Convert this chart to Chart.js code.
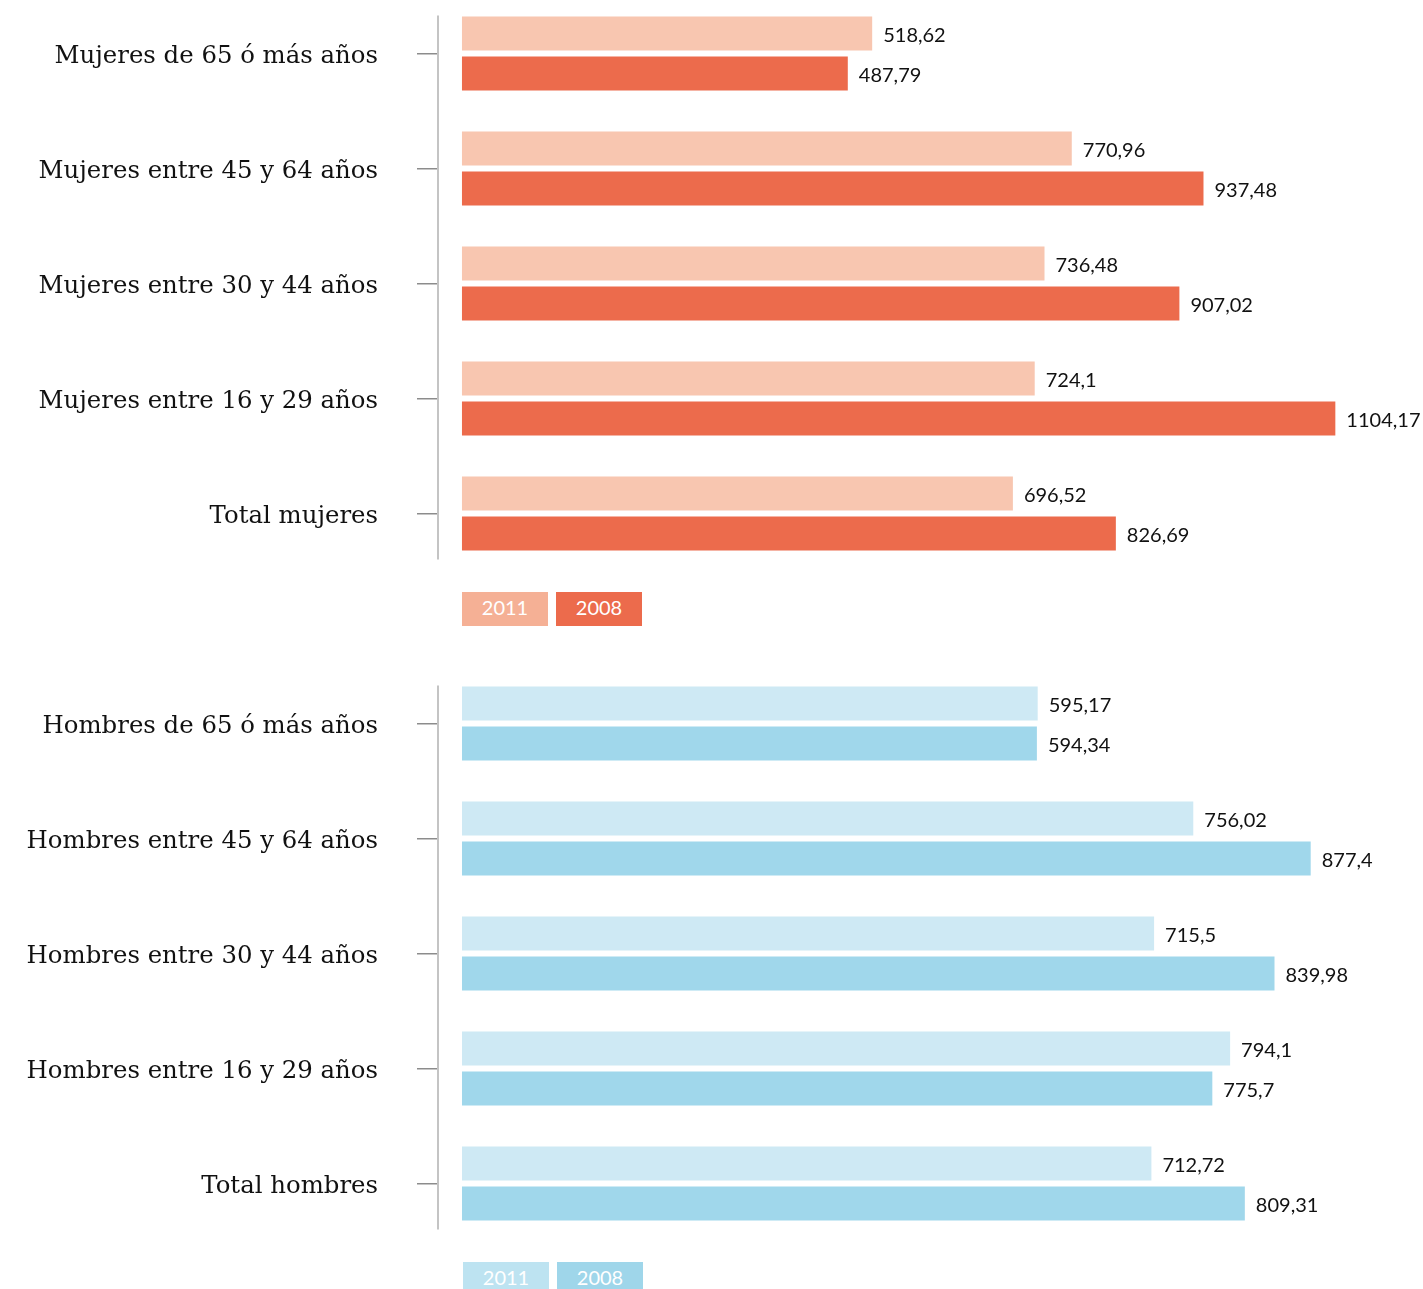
<!DOCTYPE html>
<html>
<head>
<meta charset="utf-8">
<script src="https://cdn.jsdelivr.net/npm/chart.js@4/dist/chart.umd.min.js"></script>
<style>
  body { margin: 0; background: #fff; width: 1423px; height: 1289px; overflow: hidden; position: relative; }
  .box { position: absolute; left: 0; }
  .legend { position: absolute; display: flex; gap: 8px; }
  .legend span { display: block; width: 86px; height: 34px; line-height: 34px; padding-top: 3px; box-sizing: border-box;
    text-align: center; color: #fff; font: 20px Lato, sans-serif; }
</style>
</head>
<body>
<div class="box" style="top:-10px"><canvas id="mujeres" width="1423" height="585"></canvas></div>
<div class="legend" id="legMujeres" style="left:462px; top:592px"></div>
<div class="box" style="top:660px"><canvas id="hombres" width="1423" height="585"></canvas></div>
<div class="legend" id="legHombres" style="left:463px; top:1262px"></div>

<script>
// datos (euros)
var years = ["2011", "2008"];

var catMujeres = ["Mujeres de 65 ó más años", "Mujeres entre 45 y 64 años", "Mujeres entre 30 y 44 años",
  "Mujeres entre 16 y 29 años", "Total mujeres"];
var mujeres2011 = [518.62, 770.96, 736.48, 724.1, 696.52];
var mujeres2008 = [487.79, 937.48, 907.02, 1104.17, 826.69];

var catHombres = ["Hombres de 65 ó más años", "Hombres entre 45 y 64 años", "Hombres entre 30 y 44 años",
  "Hombres entre 16 y 29 años", "Total hombres"];
var hombres2011 = [595.17, 756.02, 715.5, 794.1, 712.72];
var hombres2008 = [594.34, 877.4, 839.98, 775.7, 809.31];

// etiquetas de valor al final de cada barra
const valueLabels = {
  id: "valueLabels",
  afterDatasetsDraw(chart) {
    const ctx = chart.ctx;
    ctx.save();
    ctx.font = "20px Lato, sans-serif";
    ctx.fillStyle = "#111";
    ctx.textAlign = "left";
    ctx.textBaseline = "middle";
    chart.data.datasets.forEach((ds, i) => {
      chart.getDatasetMeta(i).data.forEach((bar, j) => {
        ctx.fillText(String(ds.data[j]).replace(".", ","), bar.x + 11, bar.y + 2);
      });
    });
    ctx.restore();
  }
};

// linea vertical del eje, solo a lo largo de las barras
const axisLine = {
  id: "axisLine",
  beforeDatasetsDraw(chart) {
    const first = chart.getDatasetMeta(0).data[0];
    const lastMeta = chart.getDatasetMeta(chart.data.datasets.length - 1);
    const last = lastMeta.data[lastMeta.data.length - 1];
    const x = chart.chartArea.left;
    const ctx = chart.ctx;
    ctx.save();
    ctx.strokeStyle = "#c4c4c4";
    ctx.lineWidth = 2;
    ctx.beginPath();
    ctx.moveTo(x, first.y - first.height / 2 - 1);
    ctx.lineTo(x, last.y + last.height / 2 + 9);
    ctx.stroke();
    ctx.restore();
  }
};

function makeChart(id, labels, d2011, d2008, colors, xmin, xmax) {
  const config = {
    type: "bar",
    data: {
      labels: labels,
      datasets: [
        { label: years[0], data: d2011, backgroundColor: colors[0] },
        { label: years[1], data: d2008, backgroundColor: colors[1] }
      ]
    },
    options: {
      indexAxis: "y",
      responsive: false,
      animation: false,
      devicePixelRatio: 1,
      categoryPercentage: 0.6957,
      barPercentage: 0.85,
      layout: { padding: { top: 6, bottom: 4, left: 0, right: 0 } },
      plugins: { legend: { display: false }, tooltip: { enabled: false } },
      scales: {
        x: { display: false, min: xmin, max: xmax },
        y: {
          border: { display: false },
          grid: { drawOnChartArea: false, offset: false, tickLength: 21, color: "#8c8c8c", lineWidth: 1.5 },
          ticks: { padding: 39, labelOffset: 3, color: "#111", font: { family: "DejaVu Serif", size: 24.4 } },
          afterFit: function (scale) {
            scale.width = 438;
            scale.paddingTop = 0;
            scale.paddingBottom = 0;
          }
        }
      }
    },
    plugins: [axisLine, valueLabels]
  };
  return new Chart(document.getElementById(id), config);
}

function legend(id, colors) {
  var el = document.getElementById(id);
  for (var i = 0; i < years.length; i++) {
    var s = document.createElement("span");
    s.textContent = years[i];
    s.style.background = colors[i];
    el.appendChild(s);
  }
}

makeChart("mujeres", catMujeres, mujeres2011, mujeres2008, ["#f8c6b0", "#ec6b4c"], -30.3, 1215);
makeChart("hombres", catHombres, hombres2011, hombres2008, ["#cee9f4", "#a0d7eb"], -24.8, 993.5);
legend("legMujeres", ["#f5b095", "#ec6b4c"]);
legend("legHombres", ["#bde3f1", "#9fd6ea"]);
</script>
</body>
</html>
